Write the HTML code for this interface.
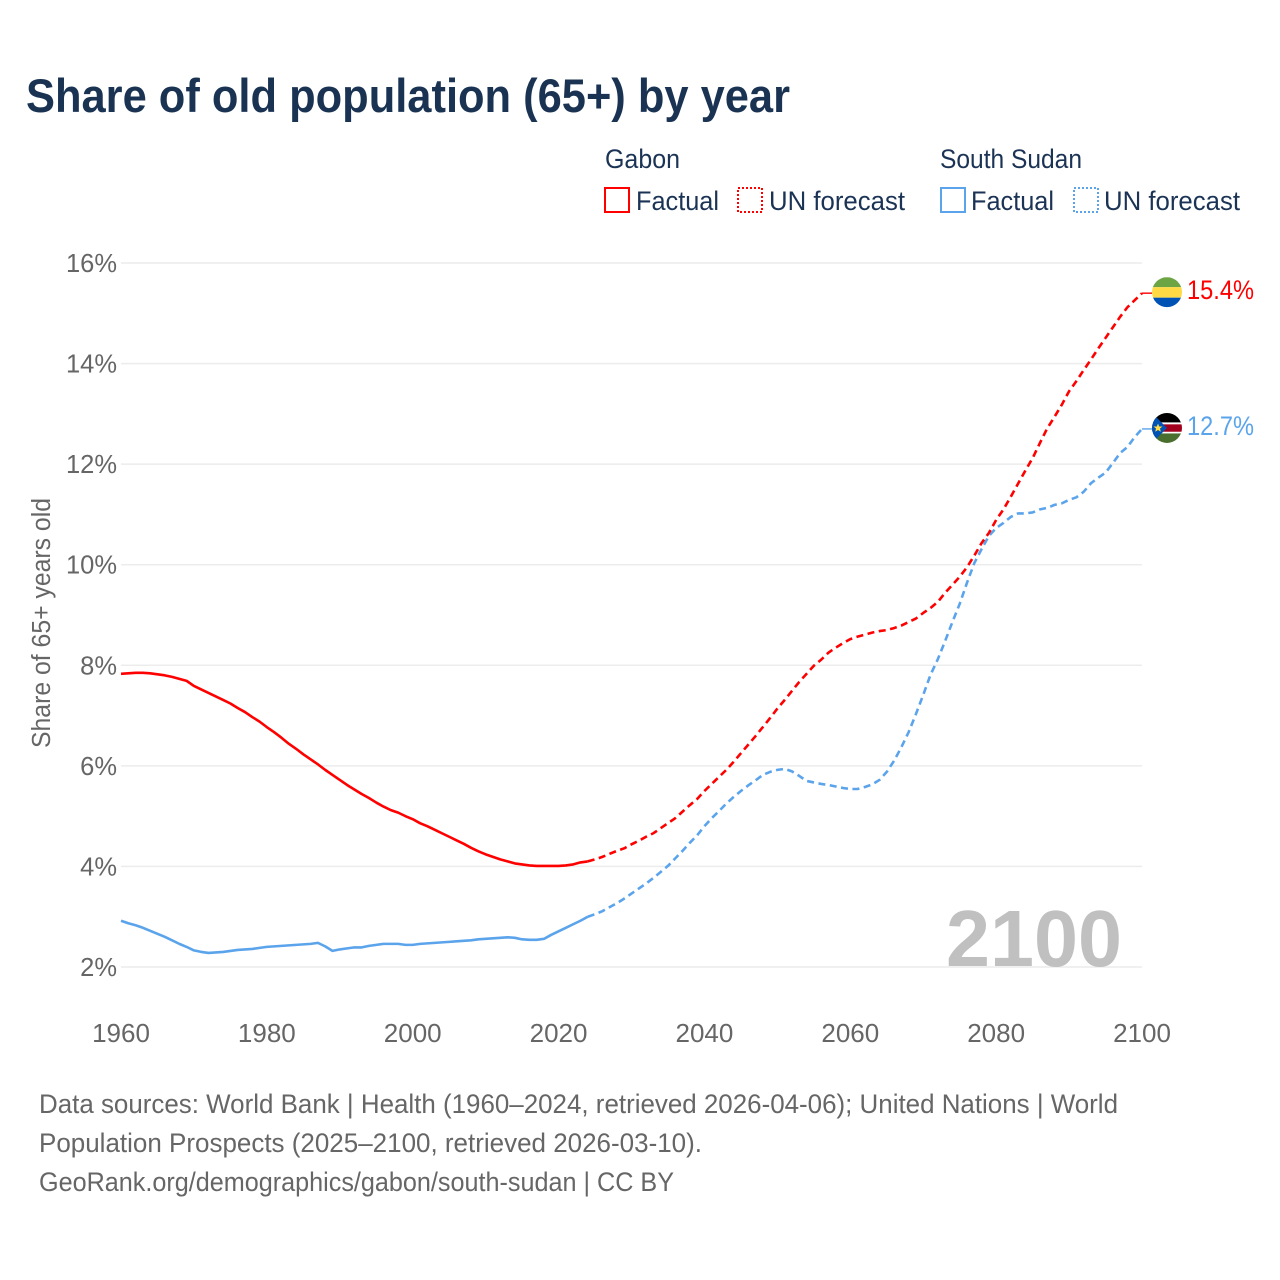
<!DOCTYPE html>
<html lang="en">
<head>
<meta charset="utf-8">
<title>Share of old population (65+) by year</title>
<style>
  html, body { margin: 0; padding: 0; background: #fff; }
  svg { display: block; font-family: "Liberation Sans", sans-serif; }
</style>
</head>
<body>
<svg id="chart" xmlns="http://www.w3.org/2000/svg" width="1280" height="1280" viewBox="0 0 1280 1280">
  <rect x="0" y="0" width="1280" height="1280" fill="#ffffff"/>
  <text x="26" y="112" font-size="47" font-weight="700" fill="#1a3353" textLength="764" lengthAdjust="spacingAndGlyphs">Share of old population (65+) by year</text>

  <g font-size="26.5" fill="#1b3355">
    <text x="605" y="168" textLength="75" lengthAdjust="spacingAndGlyphs">Gabon</text>
    <text x="940" y="168" textLength="142" lengthAdjust="spacingAndGlyphs">South Sudan</text>
    <rect x="605" y="188" width="24" height="24" fill="none" stroke="#ff0000" stroke-width="2"/>
    <text x="636" y="210" textLength="83" lengthAdjust="spacingAndGlyphs">Factual</text>
    <rect x="738" y="188" width="24" height="24" fill="none" stroke="#ff0000" stroke-width="2" stroke-dasharray="2 2"/>
    <text x="769" y="210" textLength="136" lengthAdjust="spacingAndGlyphs">UN forecast</text>
    <rect x="941" y="188" width="24" height="24" fill="none" stroke="#5ba4ec" stroke-width="2"/>
    <text x="971" y="210" textLength="83" lengthAdjust="spacingAndGlyphs">Factual</text>
    <rect x="1074" y="188" width="24" height="24" fill="none" stroke="#5ba4ec" stroke-width="2" stroke-dasharray="2 2"/>
    <text x="1104" y="210" textLength="136" lengthAdjust="spacingAndGlyphs">UN forecast</text>
  </g>

  <text transform="translate(50,748) rotate(-90)" font-size="25.5" fill="#666666" textLength="250" lengthAdjust="spacingAndGlyphs">Share of 65+ years old</text>

  <g id="grid"></g>
  <g id="y-ticks"></g>
  <g id="x-ticks"></g>

  <text id="year-label" x="1122" y="966" font-size="80" font-weight="700" fill="#c0c0c0" text-anchor="end" textLength="176" lengthAdjust="spacingAndGlyphs"></text>

  <g id="series"></g>

  <g id="flag-gabon">
    <clipPath id="clip-gabon"><circle cx="0" cy="0" r="15"/></clipPath>
    <g clip-path="url(#clip-gabon)">
      <rect x="-15" y="-15" width="30" height="10" fill="#6da544"/>
      <rect x="-15" y="-5" width="30" height="10.5" fill="#ffda44"/>
      <rect x="-15" y="5.5" width="30" height="10" fill="#0052b4"/>
    </g>
  </g>
  <g id="flag-south-sudan">
    <clipPath id="clip-ss"><circle cx="0" cy="0" r="15"/></clipPath>
    <g clip-path="url(#clip-ss)">
      <rect x="-15" y="-15" width="30" height="9.5" fill="#000000"/>
      <rect x="-15" y="-5.5" width="30" height="11" fill="#ffffff"/>
      <rect x="-15" y="-3.6" width="30" height="7.4" fill="#a2001d"/>
      <rect x="-15" y="5.5" width="30" height="10" fill="#496e2d"/>
      <polygon points="-15,-15 0,0 -15,15" fill="#0052b4"/>
      <polygon points="-9,-4.5 -7.8,-1.5 -4.5,-1.4 -7,0.6 -6.2,3.8 -9,2 -11.8,3.8 -11,0.6 -13.5,-1.4 -10.2,-1.5" fill="#ffda44"/>
    </g>
  </g>
  <text id="value-gabon" x="1187" y="299" font-size="26.5" fill="#ff0000" textLength="67" lengthAdjust="spacingAndGlyphs"></text>
  <text id="value-south-sudan" x="1187" y="435" font-size="26.5" fill="#5ba4ec" textLength="67" lengthAdjust="spacingAndGlyphs"></text>

  <g font-size="26.5" fill="#666666">
    <text x="39" y="1113" textLength="1079" lengthAdjust="spacingAndGlyphs">Data sources: World Bank | Health (1960–2024, retrieved 2026-04-06); United Nations | World</text>
    <text x="39" y="1152" textLength="663" lengthAdjust="spacingAndGlyphs">Population Prospects (2025–2100, retrieved 2026-03-10).</text>
    <text x="39" y="1191" textLength="635" lengthAdjust="spacingAndGlyphs">GeoRank.org/demographics/gabon/south-sudan | CC BY</text>
  </g>
</svg>

<script>
const factualStartYear = 2024 - 64;
const forecastStartYear = 2024;
const xTickYears = [1960, 1980, 2000, 2020, 2040, 2060, 2080, 2100];
const yTickValues = [2, 4, 6, 8, 10, 12, 14, 16];

const gabonFactual = [
  7.83,7.84,7.85,7.85,7.84,7.82,7.80,7.77,7.73,7.69,
  7.59,7.52,7.45,7.38,7.31,7.24,7.15,7.07,6.97,6.88,
  6.77,6.67,6.56,6.44,6.34,6.23,6.13,6.03,5.92,5.82,
  5.72,5.62,5.53,5.44,5.36,5.27,5.19,5.12,5.07,5.00,
  4.94,4.86,4.80,4.73,4.66,4.59,4.52,4.45,4.37,4.30,
  4.24,4.19,4.14,4.10,4.06,4.04,4.02,4.01,4.01,4.01,
  4.01,4.02,4.04,4.08,4.10
];
const gabonForecast = [
  4.10,4.14,4.19,4.25,4.31,4.36,
  4.44,4.51,4.59,4.66,4.76,4.86,4.96,5.09,5.22,5.34,
  5.50,5.64,5.78,5.92,6.08,6.25,6.42,6.59,6.77,6.95,
  7.14,7.31,7.49,7.67,7.83,7.99,8.11,8.25,8.35,8.44,
  8.52,8.57,8.61,8.65,8.68,8.70,8.74,8.79,8.86,8.93,
  9.04,9.14,9.26,9.44,9.60,9.76,9.95,10.18,10.43,10.63,
  10.89,11.10,11.35,11.61,11.87,12.12,12.42,12.71,12.94,13.18,
  13.45,13.65,13.87,14.08,14.30,14.51,14.72,14.93,15.12,15.26,
  15.40
];
const southSudanFactual = [
  2.92,2.87,2.83,2.78,2.72,2.66,2.60,2.53,2.46,2.40,
  2.33,2.30,2.28,2.29,2.30,2.32,2.34,2.35,2.36,2.38,
  2.40,2.41,2.42,2.43,2.44,2.45,2.46,2.48,2.41,2.32,
  2.35,2.37,2.39,2.39,2.42,2.44,2.46,2.46,2.46,2.44,
  2.44,2.46,2.47,2.48,2.49,2.50,2.51,2.52,2.53,2.55,
  2.56,2.57,2.58,2.59,2.58,2.55,2.54,2.54,2.56,2.64,
  2.71,2.78,2.85,2.92,3.00
];
const southSudanForecast = [
  3.00,3.05,3.11,3.19,3.27,3.36,
  3.46,3.56,3.66,3.77,3.89,4.01,4.16,4.31,4.47,4.62,
  4.80,4.96,5.10,5.25,5.38,5.50,5.61,5.71,5.82,5.88,
  5.92,5.94,5.89,5.80,5.70,5.67,5.64,5.62,5.59,5.56,
  5.54,5.54,5.58,5.63,5.72,5.88,6.10,6.37,6.67,7.03,
  7.41,7.81,8.12,8.48,8.86,9.22,9.64,10.03,10.31,10.57,
  10.73,10.83,10.95,11.02,11.02,11.04,11.10,11.13,11.19,11.22,
  11.29,11.34,11.45,11.62,11.73,11.83,12.02,12.22,12.34,12.54,
  12.70
];

const SVG_NS = 'http://www.w3.org/2000/svg';
function xScale(year) { return 121 + (year - 1960) * (1142 - 121) / 140; }
function yScale(value) { return 967 - (value - 2) * (967 - 263) / 14; }
function buildPath(values, startYear) {
  return values.map(function (v, i) {
    return (i === 0 ? 'M' : 'L') + xScale(startYear + i).toFixed(2) + ' ' + yScale(v).toFixed(2);
  }).join(' ');
}
function makeEl(tag) { return document.createElementNS(SVG_NS, tag); }

const gridGroup = document.getElementById('grid');
const yTickGroup = document.getElementById('y-ticks');
const xTickGroup = document.getElementById('x-ticks');
const seriesGroup = document.getElementById('series');

yTickValues.forEach(function (v) {
  const line = makeEl('line');
  
  
  line.setAttribute('x1', 121);
  line.setAttribute('x2', 1142);
  line.setAttribute('y1', yScale(v));
  line.setAttribute('y2', yScale(v));
  line.setAttribute('stroke', '#ececec');
  line.setAttribute('stroke-width', '1.5');
  gridGroup.appendChild(line);

  const label = makeEl('text');
  
  
  label.setAttribute('x', 117);
  label.setAttribute('y', yScale(v) + 9);
  label.setAttribute('text-anchor', 'end');
  label.setAttribute('font-size', '25.5');
  label.setAttribute('fill', '#666666');
  label.textContent = v + '%';
  yTickGroup.appendChild(label);
});

xTickYears.forEach(function (year) {
  const label = makeEl('text');
  
  
  label.setAttribute('x', xScale(year));
  label.setAttribute('y', 1042);
  label.setAttribute('text-anchor', 'middle');
  label.setAttribute('font-size', '26');
  label.setAttribute('fill', '#666666');
  label.textContent = year;
  xTickGroup.appendChild(label);
});

function drawLine(values, startYear, color, dashed, name) {
  const path = makeEl('path');
  
  
  path.setAttribute('d', buildPath(values, startYear));
  path.setAttribute('fill', 'none');
  path.setAttribute('stroke', color);
  path.setAttribute('stroke-width', '2.6');
  path.setAttribute('stroke-linejoin', 'round');
  if (dashed) { path.setAttribute('stroke-dasharray', '7 4.5'); }
  seriesGroup.appendChild(path);
}
function drawConnector(value, color, name) {
  const line = makeEl('line');
  
  
  line.setAttribute('x1', xScale(2100));
  line.setAttribute('x2', 1152);
  line.setAttribute('y1', yScale(value));
  line.setAttribute('y2', yScale(value));
  line.setAttribute('stroke', color);
  line.setAttribute('stroke-width', '1.4');
  seriesGroup.appendChild(line);
}

const blue = '#5ba4ec';
const red = '#ff0000';
const lastGabon = gabonForecast[gabonForecast.length - 1];
const lastSouthSudan = southSudanForecast[southSudanForecast.length - 1];

drawLine(southSudanFactual, factualStartYear, blue, false, 'line-south-sudan-factual');
drawLine(southSudanForecast, forecastStartYear, blue, true, 'line-south-sudan-forecast');
drawConnector(lastSouthSudan, blue, 'connector-south-sudan');
drawLine(gabonFactual, factualStartYear, red, false, 'line-gabon-factual');
drawLine(gabonForecast, forecastStartYear, red, true, 'line-gabon-forecast');
drawConnector(lastGabon, red, 'connector-gabon');

document.getElementById('flag-gabon').setAttribute('transform', 'translate(1167,' + (yScale(lastGabon) - 1) + ')');
document.getElementById('flag-south-sudan').setAttribute('transform', 'translate(1167,' + (yScale(lastSouthSudan) - 1) + ')');

const valueGabon = document.getElementById('value-gabon');
valueGabon.textContent = lastGabon.toFixed(1) + '%';
valueGabon.setAttribute('y', yScale(lastGabon) + 6);
const valueSouthSudan = document.getElementById('value-south-sudan');
valueSouthSudan.textContent = lastSouthSudan.toFixed(1) + '%';
valueSouthSudan.setAttribute('y', yScale(lastSouthSudan) + 6);

document.getElementById('year-label').textContent = forecastStartYear + gabonForecast.length - 1;
</script>
</body>
</html>
